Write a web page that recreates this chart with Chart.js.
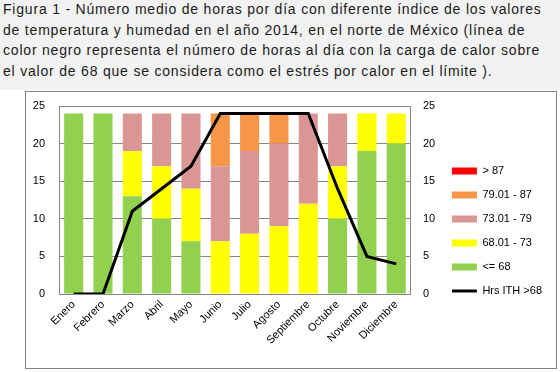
<!DOCTYPE html>
<html><head><meta charset="utf-8">
<script src="https://cdn.jsdelivr.net/npm/chart.js@4"></script>
<style>
html,body{margin:0;padding:0;background:#fff;width:560px;height:372px;overflow:hidden;}
#band{position:absolute;left:0;top:0;width:560px;height:90px;background:#f2f2f2;}
#title{position:absolute;left:3px;top:-1px;font-family:"Liberation Sans",Arial,sans-serif;font-size:14px;letter-spacing:0.8px;line-height:20.5px;color:#1a1a1a;white-space:nowrap;}
#box{position:absolute;left:25px;top:91px;width:532px;height:278px;border:1px solid #808080;box-sizing:border-box;background:#fff;}
#wrap{position:absolute;left:0px;top:0px;width:530px;height:276px;}
</style></head>
<body>
<div id="band"></div>
<div id="title">Figura 1 - Número medio de horas por día con diferente índice de los valores<br>de temperatura y humedad en el año 2014, en el norte de México (línea de<br>color negro representa el número de horas al día con la carga de calor sobre<br>el valor de 68 que se considera como el estrés por calor en el límite ).</div>
<div id="box"><div id="wrap"><canvas id="c"></canvas></div></div>
<script>
const months = ["Enero","Febrero","Marzo","Abril","Mayo","Junio","Julio","Agosto","Septiembre","Octubre","Noviembre","Diciembre"];
const le68     = [24,24,13,10,7,0,0,0,0,10,19,20];
const r68to73  = [0,0,6,7,7,7,8,9,12,7,5,4];
const r73to79  = [0,0,5,7,10,10,11,11,12,7,0,0];
const r79to87  = [0,0,0,0,0,7,5,4,0,0,0,0];
const gt87     = [0,0,0,0,0,0,0,0,0,0,0,0];
const hrsITH   = [0,0,11,14,17,24,24,24,24,14,5,4];
const seriesNames = ["<= 68","68.01 - 73","73.01 - 79","79.01 - 87","> 87","Hrs ITH >68"];
const colors = ["#92d050","#ffff00","#d99694","#f79646","#ff0000","#000000"];

const barSets = [le68,r68to73,r73to79,r79to87,gt87].map((d,i)=>({
  type:'bar', label:seriesNames[i], data:d, backgroundColor:colors[i],
  yAxisID:'y', order:1, barPercentage:0.65, categoryPercentage:1
}));
const lineSet = {type:'line', label:seriesNames[5], data:hrsITH, borderColor:'#000', backgroundColor:'#000',
  borderWidth:3, pointRadius:0, tension:0, yAxisID:'y1', order:0};

const F = "'Liberation Sans', Arial, sans-serif";
function vFit(w){ return function(s){ s.width=w; s.paddingTop=14; s.paddingBottom=0; }; }
new Chart(document.getElementById('c'), {
  type:'bar',
  data:{labels:months, datasets:[...barSets, lineSet]},
  options:{
    responsive:true, maintainAspectRatio:false, animation:false,
    layout:{padding:{top:2,right:4,left:0,bottom:0}},
    plugins:{
      tooltip:{enabled:false},
      legend:{
        position:'right', align:'center', maxWidth:140,
        labels:{
          usePointStyle:true, pointStyleWidth:25, boxWidth:25, boxHeight:7, padding:13,
          color:'#000', font:{family:F,size:11},
          generateLabels(chart){
            const ds = chart.data.datasets;
            return [4,3,2,1,0,5].map(i=>({
              text: ds[i].label,
              fillStyle: i===5 ? '#000' : ds[i].backgroundColor,
              strokeStyle: '#000',
              lineWidth: i===5 ? 3 : 0,
              pointStyle: i===5 ? 'line' : 'rect',
              datasetIndex:i, hidden:false, fontColor:'#000'
            }));
          }
        }
      }
    },
    scales:{
      x:{stacked:true, grid:{display:false, drawTicks:false}, border:{color:'#868686'},
         ticks:{minRotation:45,maxRotation:45,padding:4,color:'#000',font:{family:F,size:11}},
         afterFit(s){s.height=74;}},
      y:{stacked:true, min:0, max:25, position:'left',
         ticks:{stepSize:5,padding:14,color:'#000',font:{family:F,size:11}},
         grid:{color:'#868686',drawTicks:false}, border:{color:'#868686'},
         afterFit:vFit(33)},
      y1:{min:0, max:25, position:'right',
         ticks:{stepSize:5,padding:12,color:'#000',font:{family:F,size:11}},
         grid:{display:false,drawTicks:false}, border:{color:'#868686'},
         afterFit:vFit(28)}
    }
  }
});
</script>
</body></html>
